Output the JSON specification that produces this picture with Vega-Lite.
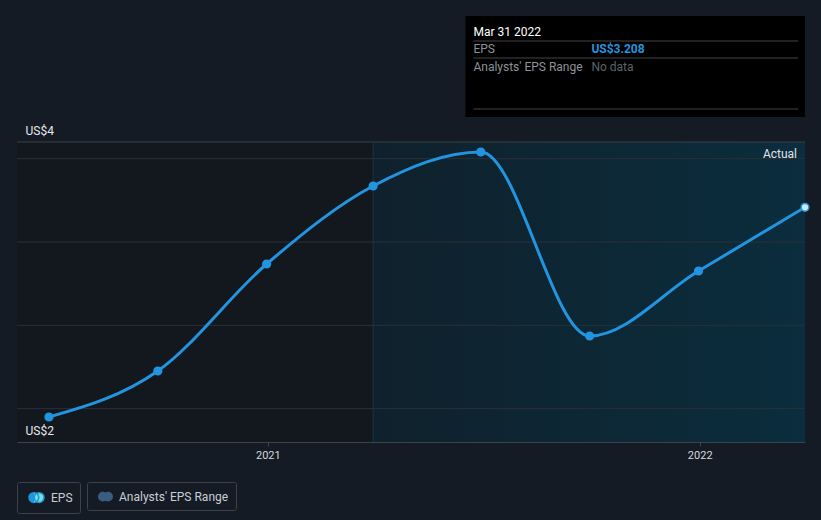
{
  "$schema": "https://vega.github.io/schema/vega-lite/v6.json",
  "width": 788,
  "height": 300,
  "autosize": {"type": "none"},
  "padding": {"left": 17, "top": 142, "right": 16, "bottom": 78},
  "background": "#151b24",
  "config": {"view": {"stroke": null}, "font": "Roboto"},
  "datasets": {
    "eps": [
      {"date": "2020-06-30", "eps": 1.95, "series": "EPS"},
      {"date": "2020-09-30", "eps": 2.226, "series": "EPS"},
      {"date": "2020-12-31", "eps": 2.868, "series": "EPS"},
      {"date": "2021-03-31", "eps": 3.336, "series": "EPS"},
      {"date": "2021-06-30", "eps": 3.54, "series": "EPS"},
      {"date": "2021-09-30", "eps": 2.436, "series": "EPS"},
      {"date": "2021-12-31", "eps": 2.826, "series": "EPS"},
      {"date": "2022-03-31", "eps": 3.208, "series": "EPS"}
    ],
    "grid": [{"level": 2.0}, {"level": 2.5}, {"level": 3.0}, {"level": 3.5}, {"level": 3.6}]
  },
  "layer": [
    {
      "data": {"values": [{"start": "2020-06-03", "end": "2021-03-31"}]},
      "mark": {"type": "rect", "fill": "#13181f"},
      "encoding": {
        "x": {
          "field": "start", "type": "temporal",
          "scale": {"type": "utc", "domain": [{"year": 2020, "month": 6, "date": 3, "utc": true}, {"year": 2022, "month": 3, "date": 31, "utc": true}]},
          "axis": {
            "values": [{"year": 2021, "month": 1, "date": 1, "utc": true}, {"year": 2022, "month": 1, "date": 1, "utc": true}],
            "format": "%Y", "title": null, "grid": false, "labelFlush": false,
            "labelColor": "#d5d8dc", "labelFontSize": 11, "labelPadding": 3,
            "domainColor": "#3d434c", "tickColor": "#3d434c", "tickSize": 4, "zindex": 1
          }
        },
        "x2": {"field": "end"}
      }
    },
    {
      "data": {"values": [{"start": "2021-03-31", "end": "2022-03-31"}]},
      "mark": {"type": "rect", "fill": {"gradient": "linear", "x1": 0, "y1": 0, "x2": 1, "y2": 0, "stops": [{"offset": 0, "color": "#0f212c"}, {"offset": 1, "color": "#0b2d3d"}]}},
      "encoding": {
        "x": {"field": "start", "type": "temporal"},
        "x2": {"field": "end"}
      }
    },
    {
      "data": {"name": "grid"},
      "mark": {"type": "rule", "strokeWidth": 1},
      "encoding": {
        "y": {
          "field": "level", "type": "quantitative",
          "scale": {"domain": [1.8, 3.6], "nice": false, "zero": false},
          "axis": {
            "values": [1.8, 3.6], "labelExpr": "datum.value > 3 ? 'US$4' : 'US$2'",
            "grid": false, "domain": false, "ticks": false, "tickSize": 0, "title": null,
            "labelAlign": "left", "labelPadding": -8, "labelBaseline": "alphabetic", "labelOffset": -8,
            "labelColor": "#e6e8eb", "labelFontSize": 12, "labelOverlap": false, "zindex": 1
          }
        },
        "stroke": {"condition": {"test": "datum.level > 3.55", "value": "#3a4049"}, "value": "#2a3039"}
      }
    },
    {
      "data": {"values": [{"d": "2021-03-31"}]},
      "mark": {"type": "rule", "stroke": "#1a3442", "strokeWidth": 1},
      "encoding": {"x": {"field": "d", "type": "temporal"}}
    },
    {
      "data": {"name": "eps"},
      "mark": {"type": "line", "interpolate": "monotone", "strokeWidth": 3},
      "encoding": {
        "x": {"field": "date", "type": "temporal"},
        "y": {"field": "eps", "type": "quantitative"},
        "color": {
          "field": "series", "type": "nominal",
          "scale": {"domain": ["EPS"], "range": ["#2394df"]},
          "legend": {
            "orient": "none", "legendX": 0, "legendY": 340, "direction": "horizontal", "title": null,
            "symbolType": "M-1,0a0.65,0.65 0 1,0 1.3,0a0.65,0.65 0 1,0 -1.3,0M-0.3,0a0.65,0.65 0 1,0 1.3,0a0.65,0.65 0 1,0 -1.3,0",
            "symbolSize": 225, "symbolOffset": 4, "padding": 7, "cornerRadius": 2,
            "strokeColor": "#3c424c", "labelColor": "#c9cdd3", "labelFontSize": 12, "labelOffset": 6,
            "encode": {"symbols": {"update": {
              "fill": {"value": {"gradient": "linear", "x1": 0, "y1": 0, "x2": 1, "y2": 0, "stops": [{"offset": 0, "color": "#2394df"}, {"offset": 0.35, "color": "#2394df"}, {"offset": 0.35, "color": "#6fe3d8"}, {"offset": 1, "color": "#6fe3d8"}]}},
              "stroke": {"value": "transparent"}, "opacity": {"value": 1}
            }}}
          }
        }
      }
    },
    {
      "data": {"name": "eps"},
      "mark": {"type": "point", "filled": true, "size": 60, "stroke": "#2394df", "strokeWidth": 1.5, "opacity": 1},
      "encoding": {
        "x": {"field": "date", "type": "temporal"},
        "y": {"field": "eps", "type": "quantitative"},
        "fill": {"condition": {"test": "datum.eps == 3.208", "value": "#cfe8fb"}, "value": "#2394df"}
      }
    },
    {
      "data": {"values": []},
      "mark": {"type": "point", "filled": true},
      "encoding": {
        "x": {"field": "date", "type": "temporal"},
        "y": {"field": "eps", "type": "quantitative"},
        "shape": {
          "field": "range", "type": "nominal",
          "scale": {"domain": ["Analysts' EPS Range"], "range": ["M-1,0a0.65,0.65 0 1,0 1.3,0a0.65,0.65 0 1,0 -1.3,0M-0.3,0a0.65,0.65 0 1,0 1.3,0a0.65,0.65 0 1,0 -1.3,0"]},
          "legend": {
            "orient": "none", "legendX": 70, "legendY": 340, "direction": "horizontal", "title": null,
            "symbolSize": 225, "symbolOffset": 4, "padding": 7, "cornerRadius": 2,
            "strokeColor": "#3c424c", "labelColor": "#c9cdd3", "labelFontSize": 12, "labelOffset": 6,
            "symbolStrokeWidth": 0,
            "encode": {"symbols": {"update": {
              "fill": {"value": {"gradient": "linear", "x1": 0, "y1": 0, "x2": 1, "y2": 0, "stops": [{"offset": 0, "color": "#235c8a"}, {"offset": 0.35, "color": "#235c8a"}, {"offset": 0.35, "color": "#3f8a84"}, {"offset": 1, "color": "#3f8a84"}]}},
              "stroke": {"value": "transparent"}, "opacity": {"value": 1}, "fillOpacity": {"value": 1}
            }}}
          }
        }
      }
    },
    {
      "data": {"values": [{"t": "Actual"}]},
      "mark": {"type": "text", "align": "right", "baseline": "middle", "dx": -8, "dy": 12, "fontSize": 12, "color": "#e0e3e6", "clip": false},
      "encoding": {
        "x": {"datum": {"year": 2022, "month": 3, "date": 31, "utc": true}, "type": "temporal"},
        "y": {"datum": 3.6, "type": "quantitative"},
        "text": {"field": "t"}
      }
    },
    {
      "data": {"values": [{}]},
      "mark": {"type": "rect", "fill": "#000000", "clip": false},
      "encoding": {
        "x": {"datum": {"year": 2021, "month": 6, "date": 17, "utc": true}, "type": "temporal"},
        "x2": {"datum": {"year": 2022, "month": 3, "date": 31, "utc": true}},
        "y": {"datum": 4.356, "type": "quantitative"},
        "y2": {"datum": 3.75}
      }
    },
    {
      "data": {"values": [{}]},
      "mark": {"type": "rule", "stroke": "#444444", "strokeWidth": 1, "xOffset": 8, "x2Offset": -7, "clip": false},
      "encoding": {
        "x": {"datum": {"year": 2021, "month": 6, "date": 17, "utc": true}, "type": "temporal"},
        "x2": {"datum": {"year": 2022, "month": 3, "date": 31, "utc": true}},
        "y": {"datum": 4.206, "type": "quantitative"}
      }
    },
    {
      "data": {"values": [{}]},
      "mark": {"type": "rule", "stroke": "#444444", "strokeWidth": 1, "xOffset": 8, "x2Offset": -7, "clip": false},
      "encoding": {
        "x": {"datum": {"year": 2021, "month": 6, "date": 17, "utc": true}, "type": "temporal"},
        "x2": {"datum": {"year": 2022, "month": 3, "date": 31, "utc": true}},
        "y": {"datum": 4.104, "type": "quantitative"}
      }
    },
    {
      "data": {"values": [{}]},
      "mark": {"type": "rule", "stroke": "#444444", "strokeWidth": 1, "xOffset": 8, "x2Offset": -7, "clip": false},
      "encoding": {
        "x": {"datum": {"year": 2021, "month": 6, "date": 17, "utc": true}, "type": "temporal"},
        "x2": {"datum": {"year": 2022, "month": 3, "date": 31, "utc": true}},
        "y": {"datum": 3.798, "type": "quantitative"}
      }
    },
    {
      "data": {"values": [{"t": "Mar 31 2022"}]},
      "mark": {"type": "text", "align": "left", "baseline": "middle", "dx": 8, "fontSize": 12, "fontWeight": "normal", "color": "#ffffff", "clip": false},
      "encoding": {
        "x": {"datum": {"year": 2021, "month": 6, "date": 17, "utc": true}, "type": "temporal"},
        "y": {"datum": 4.26, "type": "quantitative"},
        "text": {"field": "t"}
      }
    },
    {
      "data": {"values": [{"t": "EPS"}]},
      "mark": {"type": "text", "align": "left", "baseline": "middle", "dx": 8, "fontSize": 12, "color": "#8e9298", "clip": false},
      "encoding": {
        "x": {"datum": {"year": 2021, "month": 6, "date": 17, "utc": true}, "type": "temporal"},
        "y": {"datum": 4.158, "type": "quantitative"},
        "text": {"field": "t"}
      }
    },
    {
      "data": {"values": [{"t": "US$3.208"}]},
      "mark": {"type": "text", "align": "left", "baseline": "middle", "dx": 126, "fontSize": 12, "fontWeight": "bold", "color": "#2394df", "clip": false},
      "encoding": {
        "x": {"datum": {"year": 2021, "month": 6, "date": 17, "utc": true}, "type": "temporal"},
        "y": {"datum": 4.158, "type": "quantitative"},
        "text": {"field": "t"}
      }
    },
    {
      "data": {"values": [{"t": "Analysts' EPS Range"}]},
      "mark": {"type": "text", "align": "left", "baseline": "middle", "dx": 8, "fontSize": 12, "color": "#8e9298", "clip": false},
      "encoding": {
        "x": {"datum": {"year": 2021, "month": 6, "date": 17, "utc": true}, "type": "temporal"},
        "y": {"datum": 4.052, "type": "quantitative"},
        "text": {"field": "t"}
      }
    },
    {
      "data": {"values": [{"t": "No data"}]},
      "mark": {"type": "text", "align": "left", "baseline": "middle", "dx": 126, "fontSize": 12, "color": "#5f6368", "clip": false},
      "encoding": {
        "x": {"datum": {"year": 2021, "month": 6, "date": 17, "utc": true}, "type": "temporal"},
        "y": {"datum": 4.052, "type": "quantitative"},
        "text": {"field": "t"}
      }
    }
  ]
}
